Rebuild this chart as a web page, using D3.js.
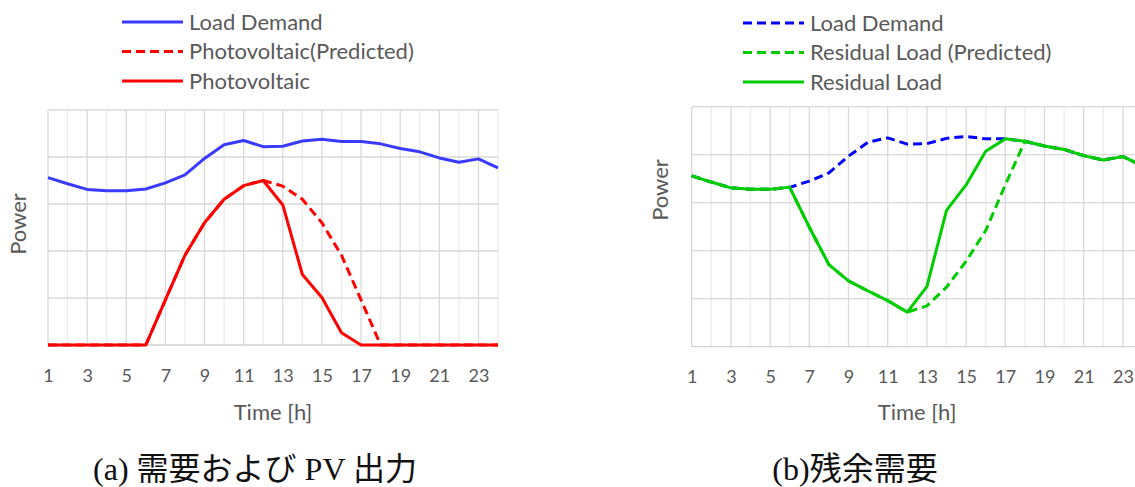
<!DOCTYPE html>
<html>
<head>
<meta charset="utf-8">
<script src="https://cdn.jsdelivr.net/npm/d3@7"></script>
<style>
  html, body { margin: 0; padding: 0; background: #fff; }
  svg { display: block; }
</style>
</head>
<body>
<svg id="chart" width="1135" height="487"></svg>
<script>
// ---------- data ----------
const hours = d3.range(1, 25);
const tickLabels = [1, 3, 5, 7, 9, 11, 13, 15, 17, 19, 21, 23];

const loadDemand = [3.56, 3.43, 3.31, 3.28, 3.28, 3.32, 3.45, 3.62, 3.97, 4.26, 4.35, 4.22,
                    4.23, 4.34, 4.38, 4.33, 4.33, 4.28, 4.18, 4.11, 3.98, 3.89, 3.96, 3.77];
const pvPredicted = [0, 0, 0, 0, 0, 0, 0.96, 1.91, 2.60, 3.10, 3.39, 3.50,
                     3.38, 3.10, 2.60, 1.91, 0.96, 0, 0, 0, 0, 0, 0, 0];
const pvActual = [0, 0, 0, 0, 0, 0, 0.96, 1.91, 2.60, 3.10, 3.39, 3.50,
                  2.98, 1.50, 1.01, 0.26, 0, 0, 0, 0, 0, 0, 0, 0];
const residualPredicted = [3.56, 3.43, 3.31, 3.28, 3.28, 3.32, 2.49, 1.71, 1.37, 1.16, 0.96, 0.72,
                           0.85, 1.24, 1.78, 2.42, 3.37, 4.28, 4.18, 4.11, 3.98, 3.89, 3.96, 3.77];
const residualActual = [3.56, 3.43, 3.31, 3.28, 3.28, 3.32, 2.49, 1.71, 1.37, 1.16, 0.96, 0.72,
                        1.25, 2.84, 3.37, 4.07, 4.33, 4.28, 4.18, 4.11, 3.98, 3.89, 3.96, 3.77];

const legendA = ["Load Demand", "Photovoltaic(Predicted)", "Photovoltaic"];
const legendB = ["Load Demand", "Residual Load (Predicted)", "Residual Load"];
const captionA = "(a) 需要および PV 出力";
const captionB = "(b)残余需要";

// ---------- drawing ----------
const svg = d3.select("#chart");
const textColor = "#595959";
const uiFont = "Lato, 'Open Sans', 'Liberation Sans', sans-serif";
const DASH = "9,5";

function panel(opts) {
  const { x0, x1, yTop, yBot, series, legend, legX, legY, caption, capX, powX, powY } = opts;
  const g = svg.append("g");
  const x = d3.scaleLinear().domain([1, 24]).range([x0, x1]);
  const y = d3.scaleLinear().domain([0, 5]).range([yBot, yTop]);

  // vertical gridlines
  g.append("g").selectAll("line").data(hours).join("line")
    .attr("x1", d => x(d)).attr("x2", d => x(d))
    .attr("y1", y(0)).attr("y2", y(5))
    .attr("stroke", d => (d % 2 === 1 ? "#d9d9d9" : "#ececec"))
    .attr("stroke-width", 1.3);
  // horizontal gridlines
  g.append("g").selectAll("line").data(d3.range(0, 6)).join("line")
    .attr("x1", x(1)).attr("x2", x(24))
    .attr("y1", d => y(d)).attr("y2", d => y(d))
    .attr("stroke", d => (d === 0 ? "#d0d0d0" : "#d9d9d9"))
    .attr("stroke-width", 1.3);

  // x axis labels
  const ax = g.append("g").attr("transform", `translate(0,${yBot + 24})`)
    .call(d3.axisBottom(x).tickValues(tickLabels).tickSize(0).tickPadding(0).tickFormat(d3.format("d")));
  ax.select(".domain").remove();
  ax.selectAll("text").attr("fill", textColor).attr("font-size", 18).attr("font-family", uiFont);

  g.append("text").attr("x", (x0 + x1) / 2).attr("y", 420)
    .attr("text-anchor", "middle").attr("fill", textColor)
    .attr("font-size", 22).attr("font-family", uiFont).text("Time [h]");

  g.append("text")
    .attr("transform", `translate(${powX},${powY}) rotate(-90)`)
    .attr("text-anchor", "middle").attr("dy", "0.35em").attr("fill", textColor)
    .attr("font-size", 22).attr("font-family", uiFont).text("Power");

  const line = d3.line().x((d, i) => x(hours[i])).y(d => y(d));
  series.forEach(s => {
    g.append("path").datum(s.values)
      .attr("d", line).attr("fill", "none")
      .attr("stroke", s.color).attr("stroke-width", 3)
      .attr("stroke-linejoin", "round")
      .attr("stroke-dasharray", s.dash ? DASH : null);
  });

  // legend
  series.forEach((s, i) => {
    const ly = legY + i * 29.5;
    g.append("line").attr("x1", legX).attr("x2", legX + 61)
      .attr("y1", ly).attr("y2", ly)
      .attr("stroke", s.color).attr("stroke-width", 3)
      .attr("stroke-dasharray", s.dash ? DASH : null);
    g.append("text").attr("x", legX + 67).attr("y", ly).attr("dy", "0.35em")
      .attr("fill", textColor).attr("font-size", 22).attr("font-family", uiFont)
      .text(legend[i]);
  });

  svg.append("text").attr("x", capX).attr("y", 480)
    .attr("text-anchor", "middle").attr("fill", "#111")
    .attr("font-size", 32)
    .attr("font-family", "'Liberation Serif', 'Noto Sans CJK JP', serif")
    .text(caption);
}

panel({
  x0: 48, x1: 498, yTop: 110, yBot: 345,
  series: [
    { values: loadDemand, color: "#3a3aff", dash: false },
    { values: pvPredicted, color: "#ff0000", dash: true },
    { values: pvActual, color: "#ff0000", dash: false }
  ],
  legend: legendA, legX: 122, legY: 22, caption: captionA, capX: 255,
  powX: 18, powY: 224
});

panel({
  x0: 691.7, x1: 1142.5, yTop: 106.7, yBot: 346.7,
  series: [
    { values: loadDemand, color: "#0000ff", dash: true },
    { values: residualPredicted, color: "#00cc00", dash: true },
    { values: residualActual, color: "#00cc00", dash: false }
  ],
  legend: legendB, legX: 743, legY: 23, caption: captionB, capX: 855,
  powX: 660, powY: 190
});
</script>
</body>
</html>
